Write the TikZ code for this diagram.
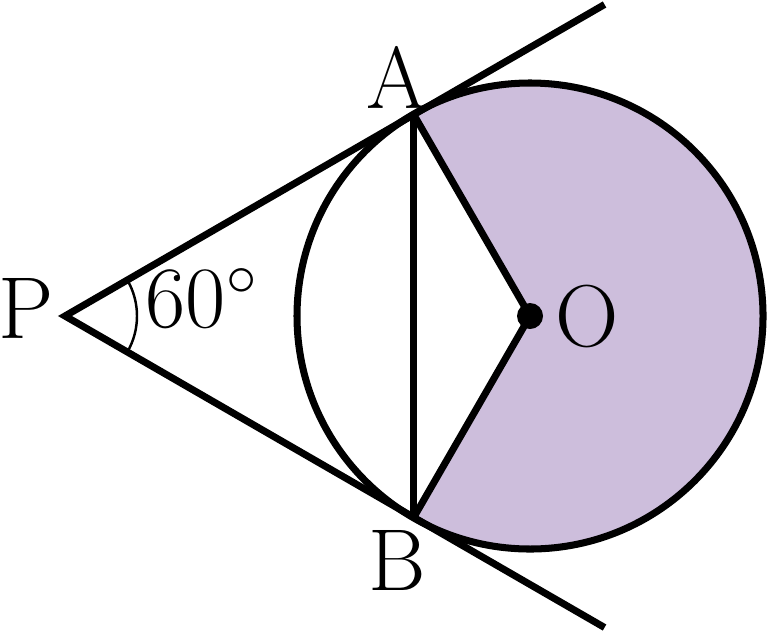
\documentclass[tikz,border=0pt]{standalone}
\usepackage{amsmath}
\usepackage{amssymb}
\usepackage{xcolor}
\usepackage{tikz}
\usetikzlibrary{calc}

\definecolor{sectorfill}{HTML}{CDBEDC}

\begin{document}
\begin{tikzpicture}[line width=2pt,
                    lbl/.style={font=\fontsize{25}{30}\selectfont,inner sep=0pt},
                   ]
  \useasboundingbox (0,0) rectangle (7.69,-6.32);
  \coordinate (P) at (0.65,-3.16);
  \coordinate (O) at (5.30,-3.16);
  \coordinate (A) at ($(O)+(120:2.33)$);
  \coordinate (B) at ($(O)+(240:2.33)$);
  \coordinate (T1) at ($(P)+(30:6.23)$);
  \coordinate (T2) at ($(P)+(-30:6.23)$);
  % shaded major sector
  \fill[sectorfill] (O) -- (A) arc[start angle=120,end angle=-120,radius=2.33] -- cycle;
  \draw (O) circle (2.33);
  \draw (T1) -- (P) -- (T2);
  \draw (A) -- (B);
  \draw (A) -- (O) -- (B);
  \draw[line width=0.7pt] ($(P)+(-30:0.72)$) arc[start angle=-30,end angle=30,radius=0.72];
  \fill (O) circle (0.13);
  % labels
  \node[lbl] (labA) at (3.97,-0.77) {A};
  \node[lbl] (labB) at (3.97,-5.60) {B};
  \node[lbl] (labP) at (0.26,-3.08) {P};
  \node[lbl] (labO) at (5.87,-3.16) {O};
  \node[lbl] (ang) at (2.02,-2.98) {$60^\circ$};
\end{tikzpicture}
\end{document}
